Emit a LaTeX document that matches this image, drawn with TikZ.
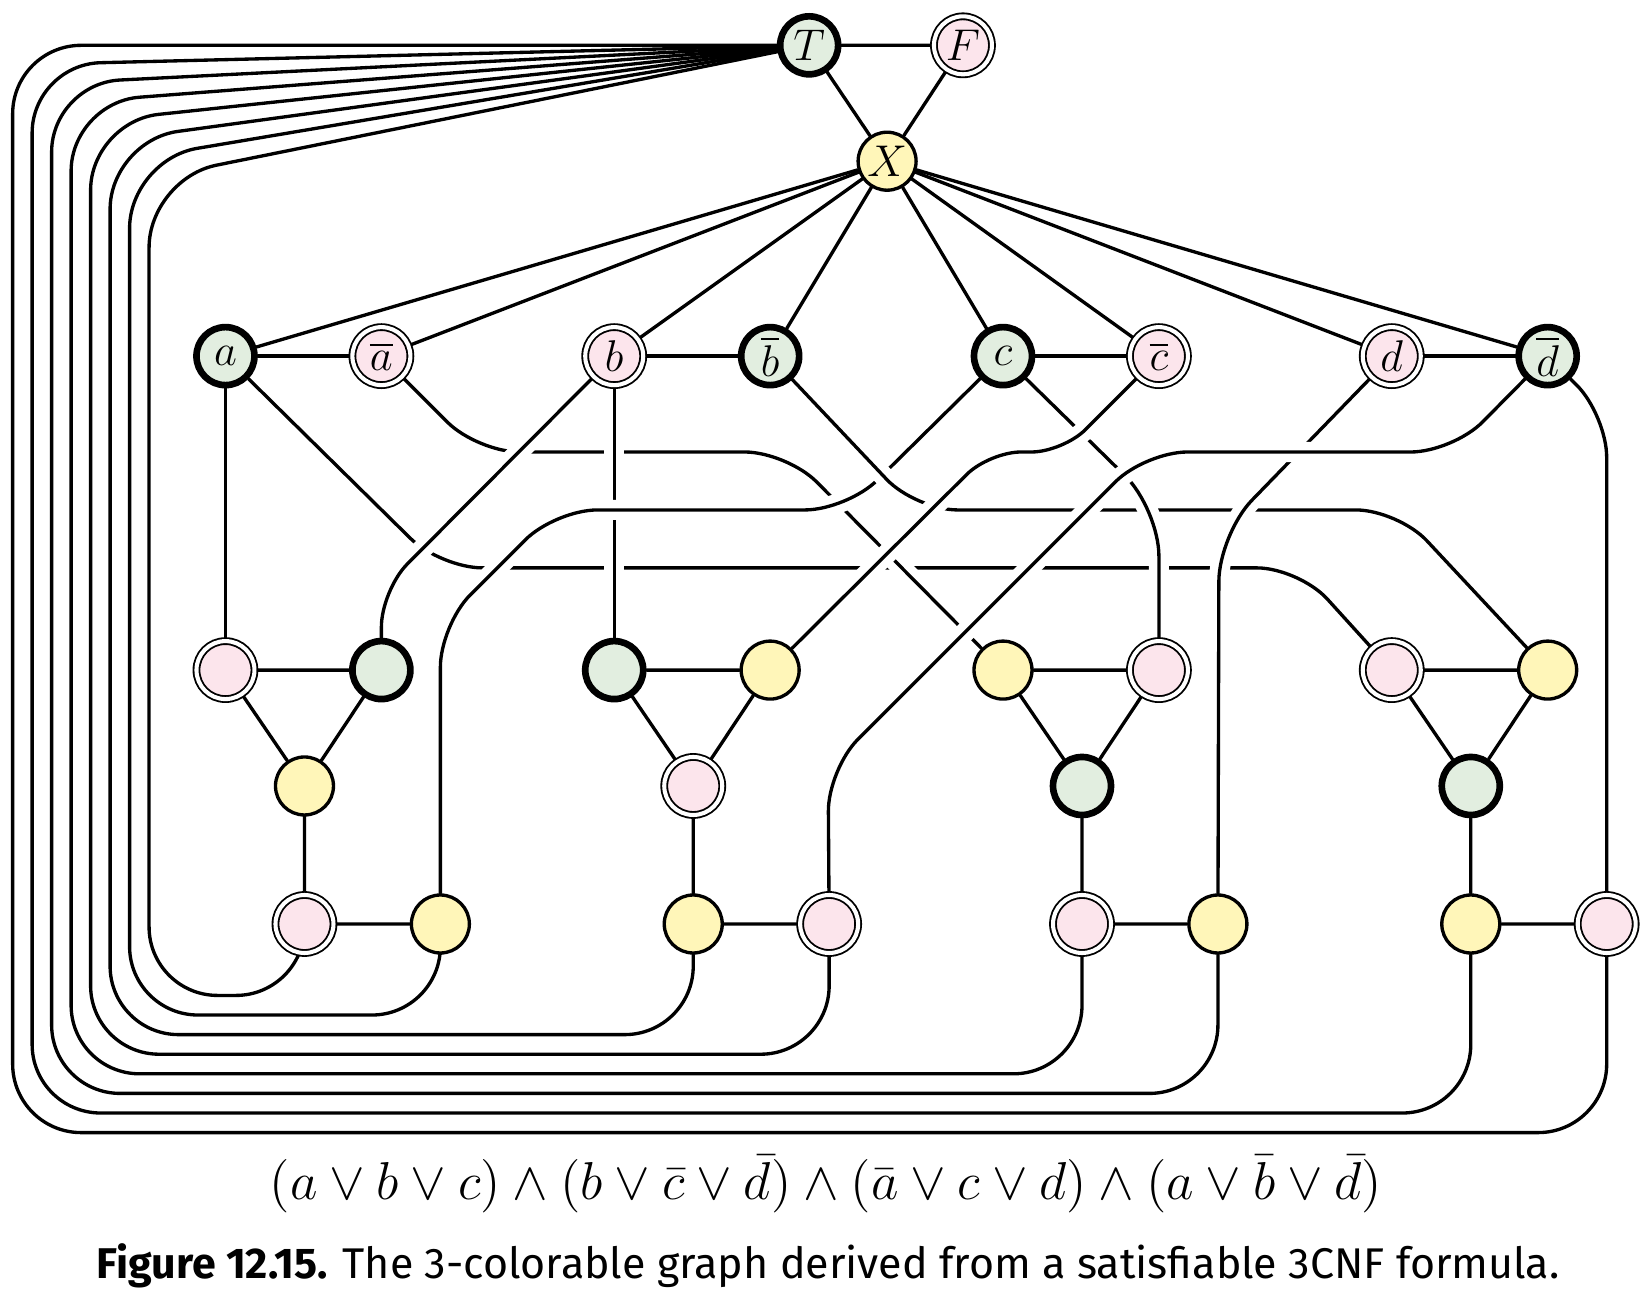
\documentclass[tikz,border=0pt]{standalone}
\usepackage{amsmath,amssymb}
\usepackage{fontspec}
\setsansfont{Fira Sans}
\usepackage{tikz}
\usetikzlibrary{positioning,backgrounds}
\definecolor{tgreen}{HTML}{E2EEE0}
\definecolor{fpink}{HTML}{FCE5EC}
\definecolor{xyellow}{HTML}{FFF6B9}

\begin{document}
\begin{tikzpicture}[x=0.01cm,y=-0.01cm,
	vtx/.style={circle,draw,inner sep=0pt,minimum size=5.5mm,line width=0.9pt,font=\fontsize{13}{15}\selectfont},
	tnode/.style={vtx,fill=tgreen,line width=1.8pt},
	fnode/.style={vtx,fill=fpink,double=white,double distance=1.1pt,line width=0.5pt},
	xnode/.style={vtx,fill=xyellow},
	wire/.style={line width=0.9pt,line cap=round},
	over/.style={wire,rounded corners=4mm,preaction={draw,white,line width=5.4pt,line cap=butt}}]
		\useasboundingbox (0,0) rectangle (1568,1223);
		\node[tnode] (T) at (768,43) {$T$};
		\node[fnode] (F) at (914,43) {$F$};
		\node[xnode] (X) at (842,153) {$X$};
		\foreach \n/\x/\s/\l in {a/214/tnode/a,na/362/fnode/\overline{a},b/583/fnode/b,nb/731/tnode/\overline{b},c/952/tnode/c,nc/1100/fnode/\overline{c},d/1321/fnode/d,nd/1469/tnode/\overline{d}}{\node[\s] (\n) at (\x,338) {$\l$};}
		\foreach \g/\x/\sa/\sb/\sc/\sd/\se in {1/214/fnode/tnode/xnode/fnode/xnode,2/583/tnode/xnode/fnode/xnode/fnode,3/952/xnode/fnode/tnode/fnode/xnode,4/1321/fnode/xnode/tnode/xnode/fnode}{
			\node[\sa] (g\g tl) at (\x,636) {};
			\node[\sb] (g\g tr) at (\x+148,636) {};
			\node[\sc] (g\g m) at (\x+75,746) {};
			\node[\sd] (g\g bl) at (\x+75,877) {};
			\node[\se] (g\g br) at (\x+204,877) {};}
		\begin{scope}[on background layer]
			\draw[over] (a) -- (418,539) -- (1233,539) -- (g4tl);
			\draw[over] (na) -- (453,429) -- (747,429) -- (g3tl);
			\draw[over] (b) -- (g2tl);
			\draw[over] (c) -- (804,484) -- (527,484) -- (418,593) -- (g1br);
			\draw[over] (nb) -- (869,484) -- (1327,484) -- (g4tr);
			\draw[over,rounded corners=4.5mm] (c) -- (1100,483) -- (g3tr);
			\draw[over,rounded corners=4.5mm] (d) -- (1157,507) -- (g3br);
			\draw[over,rounded corners=3.5mm] (b) -- (362,560) -- (g1tr);
			\draw[over,rounded corners=3mm] (nc) -- (1009,429) -- (939,429) -- (g2tr);
			\draw[over] (nd) -- (1379,429) -- (1087,429) -- (786,730) -- (g2br);
			\draw[wire] (a) -- (g1tl);
			\draw[wire,rounded corners=4mm] (nd) -- (1525,394) -- (g4br);
			\foreach \n in {a,na,b,nb,c,nc,d,nd}{\draw[wire] (X) -- (\n);}
			\draw[wire] (T) -- (F) -- (X) -- (T);
			\draw[wire] (a) -- (na) (b) -- (nb) (c) -- (nc) (d) -- (nd);
			\foreach \g in {1,...,4}{\draw[wire] (g\g tl) -- (g\g tr) -- (g\g m) -- (g\g tl) (g\g m) -- (g\g bl) -- (g\g br);}
			\foreach \i/\t/\tx/\r in {0/g4br/1525/6.5,1/g4bl/1396/6.5,2/g3br/1156/6.5,3/g3bl/1027/6.5,4/g2br/787/6.5,5/g2bl/658/6,6/g1br/418/5,7/g1bl/289/3.5}{
				\draw[wire,rounded corners=6.5mm] (T) -- (12+18.5*\i,43+18.1*\i) -- (12+18.5*\i,1075-18.6*\i) -- (\tx,1075-18.6*\i) [rounded corners=\r mm] -- (\t);}
		\end{scope}
		\node (formula) at (784,1124) {\fontsize{15.6}{18}\selectfont$(a\lor b\lor c)\land(b\lor\bar c\lor\bar d)\land(\bar a\lor c\lor d)\land(a\lor\bar b\lor\bar d)$};
		\node (caption) at (786,1201) {\sffamily\fontsize{11.6}{14}\selectfont\textbf{Figure 12.15.} The 3-colorable graph derived from a satisfiable 3CNF formula.};
	\end{tikzpicture}
\end{document}
